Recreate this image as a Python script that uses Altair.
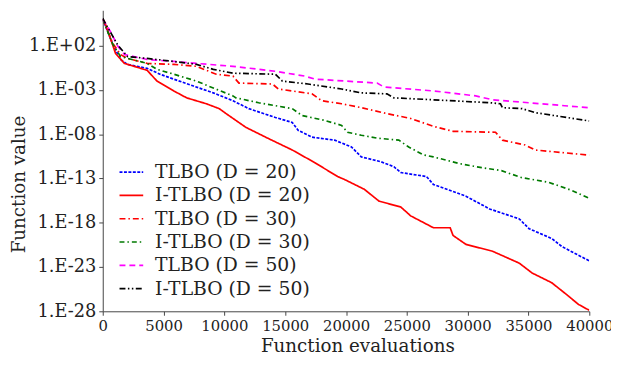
import altair as alt
import pandas as pd

series_names = ["TLBO (D = 20)", "I-TLBO (D = 20)", "TLBO (D = 30)",
                "I-TLBO (D = 30)", "TLBO (D = 50)", "I-TLBO (D = 50)"]

# x = function evaluations, e = log10(function value)
tlbo20_x = [0, 811, 1460, 2028, 3651, 4706, 5842, 7464, 9087, 10710, 12008, 14199, 15578,
            16065, 17201, 19067, 20446, 21258, 22880, 23935, 24503, 26613, 27181, 29858,
            31805, 34240, 35051, 36917, 37728, 39108, 40000]
tlbo20_e = [5.0, 2.2, 0.44, -0.11, -0.56, -1.22, -1.78, -2.56, -3.33, -4.22, -5.11, -6.11, -6.67,
            -7.56, -8.33, -8.67, -9.44, -10.56, -11.11, -11.67, -12.33, -12.78, -13.67, -15.0,
            -16.44, -17.56, -18.67, -19.78, -20.67, -21.67, -22.3]

itlbo20_x = [0, 162, 811, 1055, 1785, 3651, 4463, 5842, 6897, 8519, 9574, 10142, 11765, 13387,
             15578, 17444, 19310, 19878, 21501, 22718, 24503, 25314, 27181, 28560, 28803,
             29858, 32049, 34240, 35294, 36917, 38134, 39108, 40000]
itlbo20_e = [5.0, 4.67, 2.11, 1.11, 0.0, -0.78, -2.0, -3.11, -3.89, -4.56, -5.11, -5.67, -7.22,
             -8.33, -9.78, -11.22, -12.78, -13.11, -14.22, -15.56, -16.22, -17.22, -18.56,
             -18.56, -19.44, -20.44, -21.22, -22.56, -23.67, -24.78, -26.11, -27.22, -27.89]

tlbo30_x = [0, 811, 1460, 2028, 3651, 5842, 7708, 8519, 9331, 10710, 11197, 13955, 14442,
            17201, 18012, 19635, 21258, 23367, 25314, 27181, 28803, 32292, 32860, 34726,
            35538, 40000]
tlbo30_e = [5.0, 2.3, 1.0, 0.56, 0.0, -0.11, -0.33, -0.78, -1.22, -1.44, -2.22, -2.33, -2.89,
            -3.44, -4.22, -4.56, -5.0, -5.67, -6.22, -7.11, -7.67, -7.78, -8.67, -9.22,
            -9.78, -10.36]

itlbo30_x = [0, 811, 1460, 3651, 4463, 5842, 7708, 9087, 10710, 10953, 12820, 15578, 16389,
             18255, 19635, 20121, 21258, 22556, 24341, 25152, 26370, 27181, 29371, 31156,
             32779, 34402, 36673, 38539, 40000]
itlbo30_e = [5.0, 2.2, 0.78, 0.0, -0.67, -1.22, -2.0, -2.78, -3.67, -3.89, -4.44, -5.11, -5.89,
             -6.44, -7.0, -7.78, -8.11, -8.44, -8.67, -9.44, -10.33, -10.56, -11.33, -11.78,
             -12.11, -12.89, -13.44, -14.33, -15.25]

tlbo50_x = [0, 649, 1217, 1785, 3651, 5842, 7708, 10710, 14199, 16633, 17444, 22556, 23124,
            27181, 30669, 32049, 37972, 40000]
tlbo50_e = [5.0, 3.56, 2.0, 1.0, 0.44, 0.22, 0.0, -0.33, -0.89, -1.44, -1.78, -2.22, -2.67,
            -3.11, -3.67, -4.11, -4.78, -5.0]

itlbo50_x = [0, 162, 1217, 2028, 3651, 5842, 7708, 9087, 10710, 14199, 14767, 16876, 19635,
             21258, 23367, 23935, 27181, 31805, 32698, 32860, 34483, 35538, 40000]
itlbo50_e = [5.1, 4.67, 2.11, 0.78, 0.56, 0.22, -0.11, -0.67, -1.11, -1.22, -2.0, -2.33, -2.89,
             -3.33, -3.44, -3.89, -4.11, -4.44, -4.56, -5.0, -5.11, -5.56, -6.5]

xs = [tlbo20_x, itlbo20_x, tlbo30_x, itlbo30_x, tlbo50_x, itlbo50_x]
es = [tlbo20_e, itlbo20_e, tlbo30_e, itlbo30_e, tlbo50_e, itlbo50_e]

x_ticks = [0, 5000, 10000, 15000, 20000, 25000, 30000, 35000, 40000]
x_tick_labels = ["0", "5000", "10000", "15000", "20000", "25000", "30000", "35000", "40000"]
y_ticks = [1e-28, 1e-23, 1e-18, 1e-13, 1e-08, 1e-03, 1e+02]
y_tick_labels = ["1.E-28", "1.E-23", "1.E-18", "1.E-13", "1.E-08", "1.E-03", "1.E+02"]

colors = ["#0000ff", "#ff0000", "#ff0000", "#007a00", "#ff00ff", "#000000"]
dashes = [[3, 1.5], [1, 0], [6, 3, 1.5, 3], [5, 3, 1.5, 3], [6, 4],
          [6, 2.5, 1.5, 2.5, 1.5, 2.5]]

rows = []
for name, xv, ev in zip(series_names, xs, es):
    for i, (a, b) in enumerate(zip(xv, ev)):
        rows.append({"series": name, "x": a, "y": 10.0 ** b, "order": i})
df = pd.DataFrame(rows)

y_label_expr = ("[" + ",".join("'%s'" % s for s in y_tick_labels) +
                "][round((log(datum.value)/LN10 + 28)/5)]")
x_label_expr = ("[" + ",".join("'%s'" % s for s in x_tick_labels) +
                "][round(datum.value/5000)]")

FONT = "DejaVu Serif"

legend = alt.Legend(title=None, orient="none", legendX=16, legendY=151,
                    symbolType="stroke", symbolSize=576, symbolStrokeWidth=1.7,
                    labelFont=FONT, labelFontSize=19, labelColor="#222",
                    rowPadding=0.6, labelOffset=11, padding=0)

chart = alt.Chart(df).mark_line(strokeWidth=1.7, clip=True).encode(
    x=alt.X("x:Q", scale=alt.Scale(domain=[0, 40000], nice=False),
            axis=alt.Axis(title="Function evaluations", values=x_ticks,
                          labelExpr=x_label_expr,
                          labelOverlap=False, labelFlush=False, labelFontSize=15,
                          labelAlign="center",
                          titleX=258, titleY=41, titleBaseline="alphabetic")),
    y=alt.Y("y:Q", scale=alt.Scale(type="log", domain=[1e-28, 1e6], nice=False),
            axis=alt.Axis(title="Function value", values=y_ticks, labelExpr=y_label_expr,
                          labelFontSize=18, labelOverlap=False,
                          titleX=-85, titleY=176, titleAngle=270, titleAlign="center",
                          titleBaseline="middle")),
    color=alt.Color("series:N", scale=alt.Scale(domain=series_names, range=colors),
                    legend=legend),
    strokeDash=alt.StrokeDash("series:N", scale=alt.Scale(domain=series_names, range=dashes),
                              legend=legend),
    detail="series:N",
    order="order:Q",
).properties(
    width=493, height=305,
    autosize=alt.AutoSizeParams(type="none"),
    padding={"left": 96, "top": 0, "right": 22, "bottom": 44},
).configure_view(stroke=None).configure_axis(
    grid=False, domainColor="#444", tickColor="#444", tickSize=4,
    labelFont=FONT, labelColor="#222", labelPadding=3,
    titleFont=FONT, titleFontSize=18.5, titleFontWeight="normal", titleColor="#222",
)

chart.save("out.html", embed_options={"renderer": "svg", "actions": False})
